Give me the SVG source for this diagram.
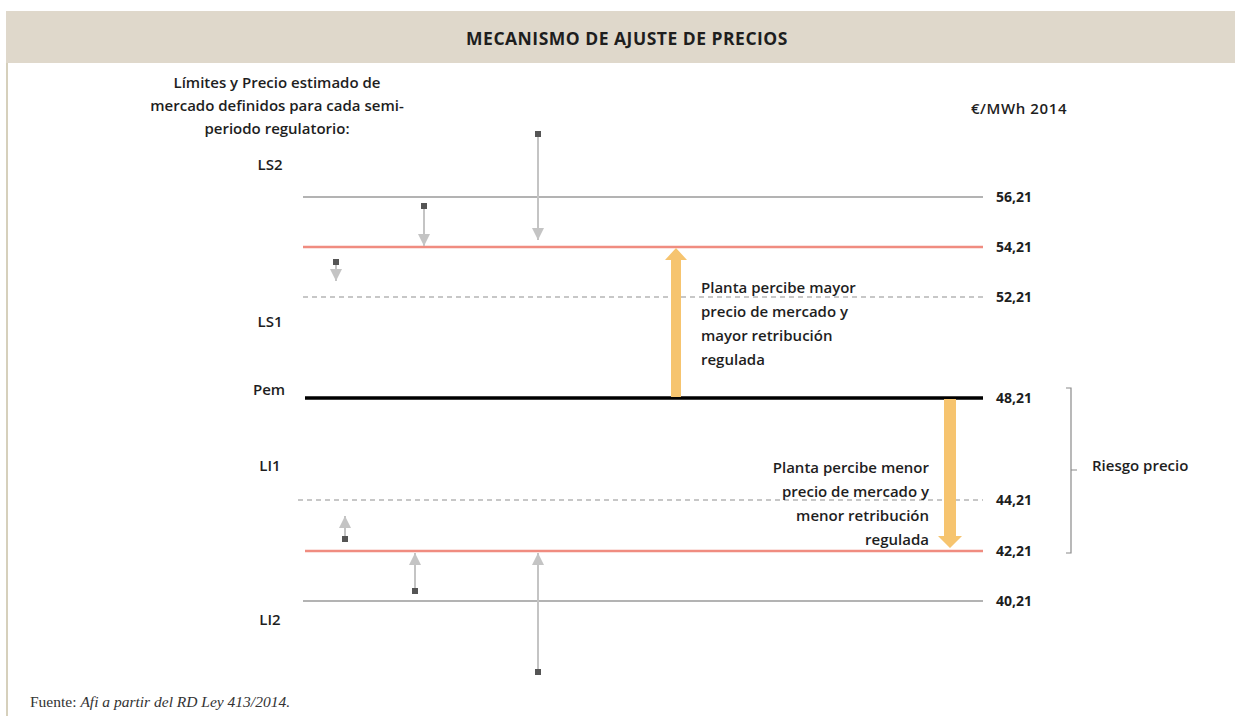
<svg xmlns="http://www.w3.org/2000/svg" width="1235" height="726" viewBox="0 0 1235 726">
<style>
  .t { font-family: "Open Sans", "Liberation Sans", sans-serif; font-weight: 600; font-size: 15px; fill: #1e1e1e; }
  .v { font-family: "Open Sans", "Liberation Sans", sans-serif; font-weight: 700; font-size: 14px; fill: #1e1e1e; }
  .grey { stroke: #9a9a9a; stroke-width: 1.5; fill: none; }
  .dash { stroke: #8f8f8f; stroke-width: 1; stroke-dasharray: 5 4; fill: none; }
  .red { stroke: #f08c80; stroke-width: 2.5; fill: none; }
  .pem { stroke: #000; stroke-width: 3.5; fill: none; }
  .sm { stroke: #c4c4c4; stroke-width: 2; fill: none; }
  .sq { fill: #555555; }
  .org { fill: #f6c46f; }
</style>
<defs>
  <marker id="ahs" viewBox="0 0 12 12" refX="12" refY="6" markerWidth="12" markerHeight="12" markerUnits="userSpaceOnUse" orient="auto">
    <path d="M0,0 L12,6 L0,12 z" fill="#c4c4c4"/>
  </marker>
</defs>
<rect x="0" y="0" width="1235" height="726" fill="#ffffff"/>
<g id="header">
  <rect x="6" y="11" width="1229" height="52" fill="#dfd8cb"/>
  <text x="627" y="45" text-anchor="middle" style="font-family:'Open Sans','Liberation Sans',sans-serif;font-weight:700;font-size:17.5px;letter-spacing:0.5px;fill:#1e1e1e">MECANISMO DE AJUSTE DE PRECIOS</text>
</g>
<line x1="7" y1="63" x2="7" y2="716" stroke="#c9c0a6" stroke-width="1.5"/>
<g id="caption">
  <text class="t" x="277" y="88" text-anchor="middle">Límites y Precio estimado de</text>
  <text class="t" x="277" y="111" text-anchor="middle">mercado definidos para cada semi-</text>
  <text class="t" x="277" y="134" text-anchor="middle">periodo regulatorio:</text>
  <text class="t" x="1019" y="114" text-anchor="middle" letter-spacing="0.6">€/MWh 2014</text>
</g>
<g id="levels">
  <g id="ls2"><text class="t" x="270" y="170" text-anchor="middle">LS2</text><line class="grey" x1="303" y1="197" x2="983" y2="197"/><text class="v" x="996" y="202">56,21</text></g>
  <g id="lim-sup"><line class="red" x1="303" y1="247" x2="983" y2="247"/><text class="v" x="996" y="252">54,21</text></g>
  <g id="ls1"><line class="dash" x1="303" y1="297" x2="983" y2="297"/><text class="v" x="996" y="302">52,21</text><text class="t" x="270" y="327" text-anchor="middle">LS1</text></g>
  <g id="pem"><text class="t" x="269" y="395" text-anchor="middle">Pem</text><line class="pem" x1="305" y1="398" x2="983" y2="398"/><text class="v" x="996" y="403">48,21</text></g>
  <g id="li1"><text class="t" x="270" y="471" text-anchor="middle">LI1</text><line class="dash" x1="298" y1="500" x2="983" y2="500"/><text class="v" x="996" y="505">44,21</text></g>
  <g id="lim-inf"><line class="red" x1="305" y1="551" x2="983" y2="551"/><text class="v" x="996" y="556">42,21</text></g>
  <g id="li2"><line class="grey" x1="303" y1="601" x2="983" y2="601"/><text class="v" x="996" y="606">40,21</text><text class="t" x="270" y="625" text-anchor="middle">LI2</text></g>
</g>
<g id="connectors">
  <line class="sm" x1="538" y1="136" x2="538" y2="240" marker-end="url(#ahs)"/>
  <rect class="sq" x="535" y="131" width="6" height="6"/>
  <line class="sm" x1="424" y1="208" x2="424" y2="246" marker-end="url(#ahs)"/>
  <rect class="sq" x="421" y="203" width="6" height="6"/>
  <line class="sm" x1="336" y1="264" x2="336" y2="281" marker-end="url(#ahs)"/>
  <rect class="sq" x="333" y="259" width="6" height="6"/>
  <line class="sm" x1="345" y1="537" x2="345" y2="516" marker-end="url(#ahs)"/>
  <rect class="sq" x="342" y="536" width="6" height="6"/>
  <line class="sm" x1="415" y1="589" x2="415" y2="553" marker-end="url(#ahs)"/>
  <rect class="sq" x="412" y="588" width="6" height="6"/>
  <line class="sm" x1="538" y1="670" x2="538" y2="553" marker-end="url(#ahs)"/>
  <rect class="sq" x="535" y="669" width="6" height="6"/>
  <path class="org" d="M671,397 L671,260 L665,260 L676,248 L687,260 L681,260 L681,397 z"/>
  <path class="org" d="M944,399 L944,536 L938,536 L950,548 L962,536 L956,536 L956,399 z"/>
  <path d="M1066,388 L1071,388 L1071,553 L1066,553 M1071,470 L1077,470" stroke="#8a8a8a" stroke-width="1.2" fill="none"/>
</g>
<g id="notes">
  <text class="t" x="701" y="293">Planta percibe mayor</text>
  <text class="t" x="701" y="317">precio de mercado y</text>
  <text class="t" x="701" y="341">mayor retribución</text>
  <text class="t" x="701" y="365">regulada</text>
  <text class="t" x="929" y="473" text-anchor="end">Planta percibe menor</text>
  <text class="t" x="929" y="497" text-anchor="end">precio de mercado y</text>
  <text class="t" x="929" y="521" text-anchor="end">menor retribución</text>
  <text class="t" x="929" y="545" text-anchor="end">regulada</text>
  <text class="t" x="1092" y="471">Riesgo precio</text>
</g>
<text x="30" y="707" style="font-family:'Liberation Serif',serif;font-size:15.5px;fill:#333">Fuente: <tspan font-style="italic">Afi a partir del RD Ley 413/2014.</tspan></text>
</svg>
